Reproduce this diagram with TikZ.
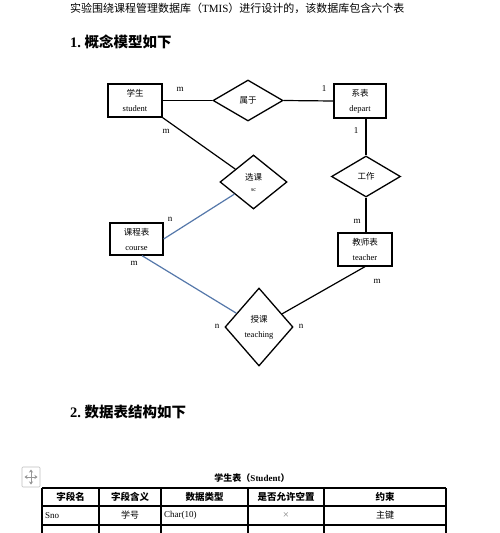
\documentclass[tikz,border=0pt]{standalone}
\usepackage{fontspec}
\setmainfont{Liberation Serif}
\newfontfamily\cjk{Noto Sans CJK SC}
\usetikzlibrary{shapes.geometric,arrows.meta}
\definecolor{linkblue}{RGB}{85,120,170}
\definecolor{iconGrey}{RGB}{150,150,150}
\begin{document}
\begin{tikzpicture}[x=1pt,y=-1pt,
  entity/.style={draw, line width=1.3pt, minimum width=54pt, minimum height=33pt, inner sep=0pt, align=center, font=\fontsize{8.5}{15}\selectfont},
  rel/.style={draw, diamond, line width=1.3pt, inner sep=0pt, align=center, font=\fontsize{8.5}{15}\selectfont},
  card/.style={font=\fontsize{9}{10}\selectfont, inner sep=0pt},
  conn/.style={line width=1.2pt},
  bconn/.style={line width=1.2pt, draw=linkblue},
  head/.style={font=\fontsize{14.5}{16}\selectfont\bfseries, anchor=west, inner sep=0pt},
  tbl/.style={line width=1.1pt},
  th/.style={font=\cjk\fontsize{9.5}{11}\selectfont\bfseries, inner sep=0pt},
  td/.style={font=\fontsize{9}{11}\selectfont, inner sep=0pt}]
\clip (0,0) rectangle (500,533);
\fill[white] (0,0) rectangle (500,533);

% top text and headings
\node[anchor=west, inner sep=0pt, font=\fontsize{11}{12}\selectfont] (intro) at (70,8.5)
  {{\cjk 实验围绕课程管理数据库（}TMIS{\cjk ）进行设计的，该数据库包含六个表}};
\node[head] (h1) at (70,42) {1.\ {\cjk 概念模型如下}};
\node[head] (h2) at (70,412) {2.\ {\cjk 数据表结构如下}};

% entities
\node[entity] (student) at (135,100.5) {{\cjk 学生}\\student};
\node[entity, minimum width=52pt, minimum height=34pt] (depart) at (360,101) {{\cjk 系表}\\depart};
\node[entity, minimum width=53pt, minimum height=32pt] (course) at (136.5,239) {{\cjk 课程表}\\course};
\node[entity] (teacher) at (365,249.5) {{\cjk 教师表}\\teacher};

% relationships
\node[rel, minimum width=70pt, minimum height=41pt] (shuyu) at (248,100.5) {\cjk 属于};
\node[rel, minimum width=67pt, minimum height=54pt] (xuanke) at (253.5,182) {{\cjk 选课}\\[-4pt]{\fontsize{6}{7}\selectfont sc}};
\node[rel, minimum width=69pt, minimum height=41pt] (gongzuo) at (366,176.5) {\cjk 工作};
\node[rel, minimum width=68pt, minimum height=78pt] (shouke) at (259,327) {{\cjk 授课}\\teaching};

% connectors
\draw[conn] (student.east) -- (shuyu.west);
\draw[conn] (shuyu.east) -- (depart.west);
\draw[conn] (student.south east) -- (xuanke);
\draw[conn] (gongzuo.north |- depart.south) -- (gongzuo.north);
\draw[conn] (gongzuo.south) -- (gongzuo.south |- teacher.north);
\draw[bconn] (course.east) -- (xuanke);
\draw[bconn] ([xshift=5.5pt]course.south) -- (shouke);
\draw[conn] (teacher.south) -- (shouke);

% cardinalities
\node[card] (c1) at (180,89) {m};
\node[card] (c2) at (324,89) {1};
\node[card] (c3) at (166,131) {m};
\node[card] (c4) at (356,131) {1};
\node[card] (c5) at (357,221) {m};
\node[card] (c6) at (170,219) {n};
\node[card] (c7) at (134,263) {m};
\node[card] (c8) at (377,281) {m};
\node[card] (c9) at (217,326) {n};
\node[card] (c10) at (301,326) {n};

% move icon
\draw[iconGrey!60, line width=0.6pt, rounded corners=1pt] (22,467) rectangle (40,487);
\draw[iconGrey, line width=0.8pt, {Stealth[length=3pt,width=4pt]}-{Stealth[length=3pt,width=4pt]}] (24.5,477) -- (37.5,477);
\draw[iconGrey, line width=0.8pt, {Stealth[length=3pt,width=4pt]}-{Stealth[length=3pt,width=4pt]}] (31,469.5) -- (31,484.5);

% table caption
\node[inner sep=0pt, font=\fontsize{9}{11}\selectfont\bfseries] (cap) at (252,478)
  {{\cjk 学生表（}Student{\cjk ）}};

% table grid
\draw[tbl] (42,488) -- (446,488);
\draw[tbl] (42,506) -- (446,506);
\draw[tbl] (42,525) -- (446,525);
\foreach \xx in {42,99,161,248,324,446} \draw[tbl] (\xx,488) -- (\xx,540);

% header
\node[th] (t1) at (70.5,497) {字段名};
\node[th] (t2) at (130,497) {字段含义};
\node[th] (t3) at (204.5,497) {数据类型};
\node[th] (t4) at (286,497) {是否允许空置};
\node[th] (t5) at (385,497) {约束};

% row 1
\node[td, anchor=west] (r1) at (45,515.5) {Sno};
\node[td] (r2) at (130,515.5) {\cjk 学号};
\node[td, anchor=west] (r3) at (164,515.5) {Char(10)};
\node[td, text=gray, font=\fontsize{11}{11}\selectfont] (r4) at (286,515.5) {×};
\node[td] (r5) at (385,515.5) {\cjk 主键};
\end{tikzpicture}
\end{document}
